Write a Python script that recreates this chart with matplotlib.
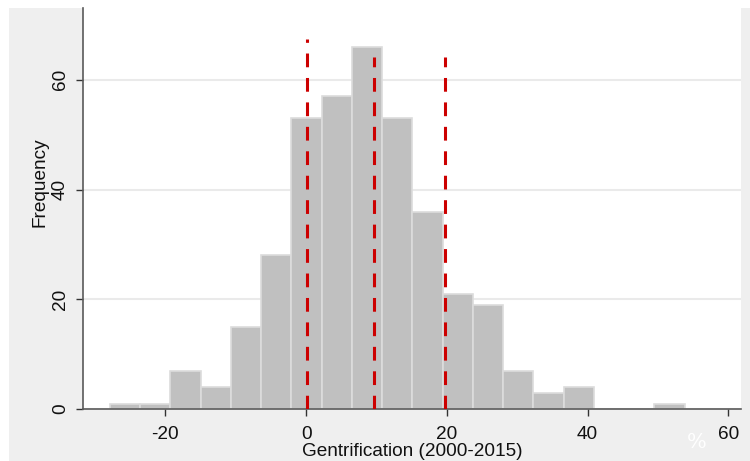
import matplotlib
matplotlib.use("Agg")
import matplotlib.pyplot as plt
from matplotlib.patches import Rectangle
import numpy as np

plt.rcParams['font.family'] = ['Liberation Sans', 'DejaVu Sans']
plt.rcParams['axes.unicode_minus'] = False

# histogram bins (left edge, width) and counts
bin_start = -27.9
bin_width = 4.3
counts = [1, 1, 7, 4, 15, 28, 53, 57, 66, 53, 36, 21, 19, 7, 3, 4, 0, 0, 1]

# red reference lines: x position and top
ref_x = [0.2, 9.7, 19.7]
ref_top = [67.4, 64.1, 64.1]

x_ticks = [-20, 0, 20, 40, 60]
y_ticks = [0, 20, 40, 60]

W, H = 750, 461
FS = 13.7
fig = plt.figure(figsize=(7.5, 4.61), dpi=100, facecolor='white')
fig.patches.append(Rectangle((9 / W, 0), 1 - 9 / W, 1 - 8 / H,
                             transform=fig.transFigure, facecolor='#efefef',
                             edgecolor='none', zorder=-10))

ax = fig.add_axes([83 / W, (H - 409) / H, (741 - 83) / W, (409 - 8) / H])
ax.set_facecolor('white')

edges = bin_start + bin_width * np.arange(len(counts))
ax.bar(edges, counts, width=bin_width, align='edge', color='#c0c0c0',
       edgecolor='#dcdcdc', linewidth=1.2, zorder=2)

for x, top in zip(ref_x, ref_top):
    ax.vlines(x, 0, top, colors='#cc0000', linewidth=2.2,
              linestyles=(0, (4.5, 3.5)), zorder=3)

ax.set_xlim(-31.7, 61.8)
ax.set_ylim(0, 73.1)
ax.set_xticks(x_ticks)
ax.set_yticks(y_ticks)
ax.yaxis.grid(True, color='#eaeaea', linewidth=1.5, zorder=0)
ax.set_axisbelow(True)

for s in ['top', 'right']:
    ax.spines[s].set_visible(False)
for s in ['left', 'bottom']:
    ax.spines[s].set_color('#5a5a5a')
    ax.spines[s].set_linewidth(1.2)

ax.tick_params(axis='both', direction='out', length=5, width=1,
               color='#333333', labelsize=FS, labelcolor='#111111')
ax.tick_params(axis='x', pad=7)
ax.tick_params(axis='y', pad=5)
for lbl in ax.get_yticklabels():
    lbl.set_rotation(90)
    lbl.set_va('center')

ax.set_xlabel('Gentrification (2000-2015)', fontsize=FS, color='#111111',
              labelpad=0)
ax.set_ylabel('Frequency', fontsize=FS, color='#111111')
ax.yaxis.set_label_coords((48 - 83) / (741 - 83), (409 - 182) / (409 - 8))

fig.text(697 / W, 1 - 442 / H, '%', color='white', fontsize=15,
         ha='center', va='center', family='DejaVu Serif')

fig.savefig('out.png', dpi=100, facecolor='white')
